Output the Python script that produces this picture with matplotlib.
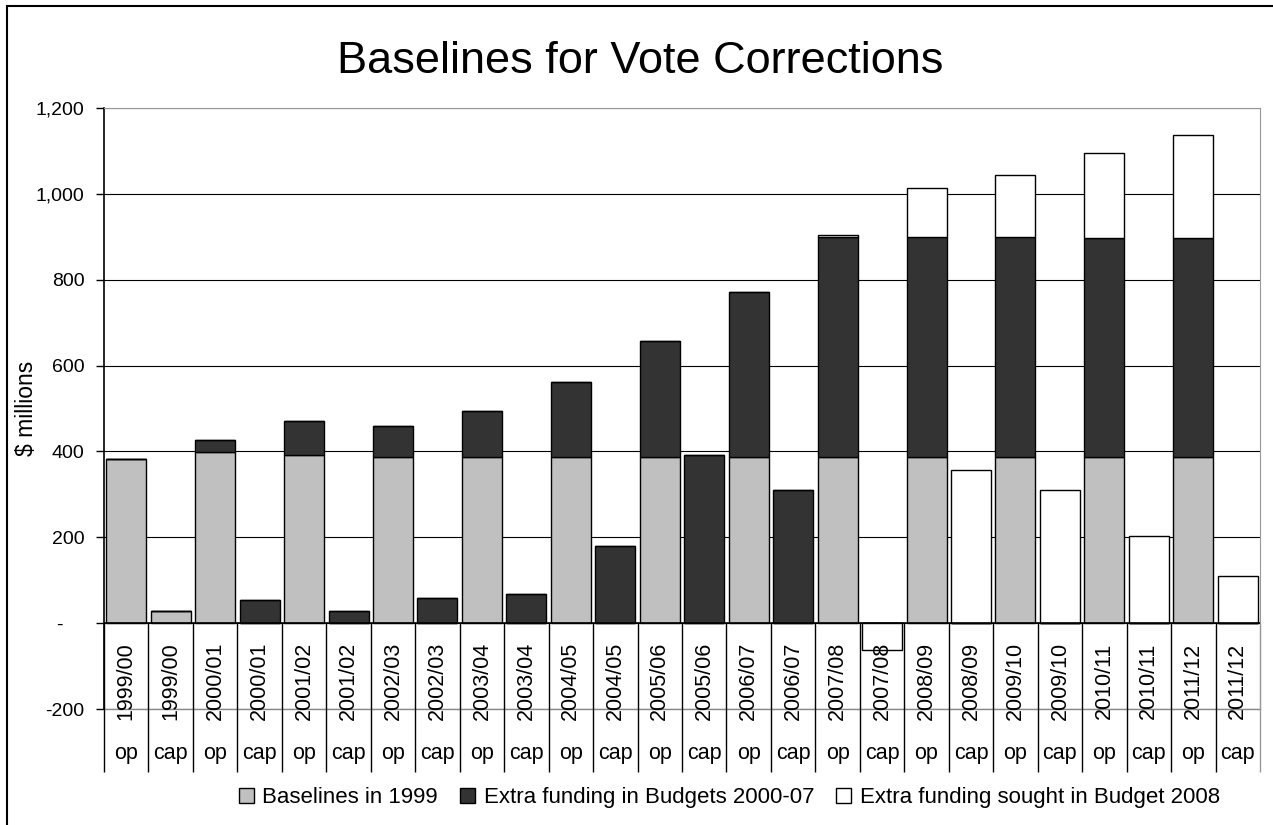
import numpy as np
import matplotlib.pyplot as plt
from matplotlib.patches import Rectangle

plt.rcParams['font.family'] = ['Liberation Sans', 'DejaVu Sans']

years = ['1999/00', '2000/01', '2001/02', '2002/03', '2003/04', '2004/05', '2005/06',
         '2006/07', '2007/08', '2008/09', '2009/10', '2010/11', '2011/12']
kinds = ['op', 'cap']

# $ millions, one value per year
base_op = [382, 399, 391, 387, 387, 387, 387, 387, 387, 387, 387, 387, 387]
base_cap = [29, 0, 0, 0, 0, 0, 0, 0, 0, 0, 0, 0, 0]
extra_op = [0, 28, 79, 73, 107, 175, 271, 385, 512, 512, 512, 509, 509]
extra_cap = [0, 54, 29, 58, 68, 179, 391, 311, 0, 0, 0, 0, 0]
sought_op = [0, 0, 0, 0, 0, 0, 0, 0, 5, 114, 145, 200, 240]
sought_cap = [0, 0, 0, 0, 0, 0, 0, 0, -62, 357, 311, 204, 110]

yticks = [-200, 0, 200, 400, 600, 800, 1000, 1200]
ytick_labels = ['-200', '-    ', '200', '400', '600', '800', '1,000', '1,200']

# interleave op / cap
labels_year = []
labels_kind = []
baseline = []
extra = []
sought = []
for i, y in enumerate(years):
    labels_year += [y, y]
    labels_kind += kinds
    baseline += [base_op[i], base_cap[i]]
    extra += [extra_op[i], extra_cap[i]]
    sought += [sought_op[i], sought_cap[i]]

baseline = np.array(baseline)
extra = np.array(extra)
sought = np.array(sought)
x = np.arange(len(labels_year))

fig = plt.figure(figsize=(12.73, 8.25), dpi=100)
ax = fig.add_axes([0.0817, 0.1406, 0.9081, 0.7285])

w = 0.9
ax.bar(x, baseline, w, color='#c0c0c0', edgecolor='black', linewidth=1,
       label='Baselines in 1999', zorder=3)
ax.bar(x, extra, w, bottom=baseline, color='#333333', edgecolor='black',
       linewidth=1, label='Extra funding in Budgets 2000-07', zorder=3)
ax.bar(x, sought, w, bottom=baseline + extra, color='white', edgecolor='black',
       linewidth=1, label='Extra funding sought in Budget 2008', zorder=3)

ax.set_xlim(-0.5, len(x) - 0.5)
ax.set_ylim(-200, 1200)
ax.set_yticks(yticks)
ax.set_yticklabels(ytick_labels, fontsize=14)
ax.tick_params(axis='y', direction='out', length=6, width=1, pad=8)
ax.set_xticks([])
ax.yaxis.grid(True, color='black', linewidth=0.8)
ax.set_axisbelow(True)
ax.axhline(0, color='black', linewidth=1.2, zorder=4)
ax.axhline(-200, color='#888888', linewidth=1, clip_on=False, zorder=1)

ax.spines['bottom'].set_visible(False)
ax.spines['top'].set_color('#999999')
ax.spines['right'].set_color('#999999')
ax.spines['left'].set_linewidth(1.2)

# category labels under the zero line
for i in range(len(x)):
    ax.text(x[i], -135, labels_year[i], rotation=90, ha='center', va='center',
            fontsize=15.5, clip_on=False)
    ax.text(x[i], -303, labels_kind[i], ha='center', va='center',
            fontsize=15.5, clip_on=False)
for i in range(len(x) + 1):
    c = '#999999' if i == len(x) else 'black'
    ax.vlines(i - 0.5, -347, 0, color=c, linewidth=1, clip_on=False, zorder=4)

ax.set_ylabel('$ millions', fontsize=16.5)
ax.yaxis.set_label_coords(-0.057, 0.5)

fig.text(0.503, 0.925, 'Baselines for Vote Corrections', fontsize=32.5,
         ha='center', va='center')

fig.legend(loc='center', bbox_to_anchor=(0.573, 0.033), ncol=3, frameon=False,
           fontsize=16, handlelength=0.67, handleheight=0.67, handletextpad=0.38,
           columnspacing=1.0, borderpad=0)

fig.patches.append(Rectangle((0.0055, -0.05), 1.2, 1.043, transform=fig.transFigure,
                             fill=False, edgecolor='black', linewidth=1.5))

plt.savefig('out.png', dpi=100)
